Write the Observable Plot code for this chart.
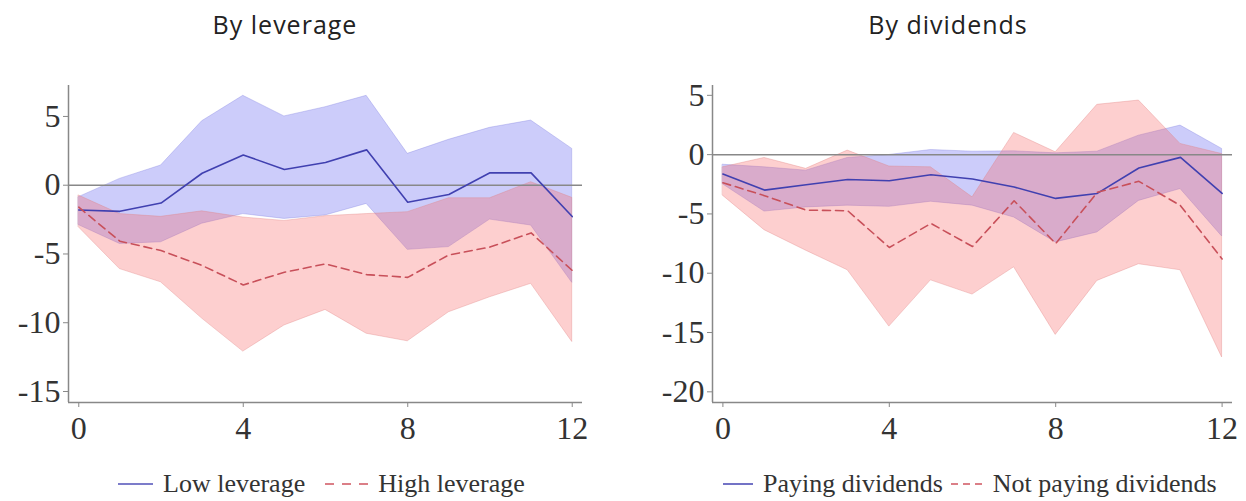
<!DOCTYPE html>
<html><head><meta charset="utf-8">
<script src="https://cdn.jsdelivr.net/npm/d3@7"></script>
<script src="https://cdn.jsdelivr.net/npm/@observablehq/plot@0.6"></script>
<style>
body{margin:0;background:#fff;width:1246px;height:501px;overflow:hidden;position:relative}
.title{position:absolute;top:7px;font-family:"Open Sans",sans-serif;font-size:25px;letter-spacing:1px;color:#222;transform:translateX(-50%);white-space:nowrap}
.panel{position:absolute;top:60px}
.legend{position:absolute;top:469px;font-family:"Liberation Serif",serif;font-size:26px;color:#333;display:flex;align-items:center;white-space:nowrap}
.legend svg{margin-right:10px}
</style></head><body>
<div class="title" style="left:285px">By leverage</div>
<div class="title" style="left:948px">By dividends</div>
<div id="p1" class="panel" style="left:0px"></div>
<div id="p2" class="panel" style="left:630px"></div>
<div class="legend" style="left:118px">
  <svg width="35" height="10"><line x1="0" y1="5" x2="35" y2="5" stroke="#5050b8" stroke-width="1.6"/></svg><span style="margin-right:20px">Low leverage</span>
  <svg width="43" height="10"><line x1="0" y1="5" x2="43" y2="5" stroke="#d05560" stroke-width="1.6" stroke-dasharray="9,8"/></svg><span>High leverage</span>
</div>
<div class="legend" style="left:723px">
  <svg width="30" height="10"><line x1="0" y1="5" x2="30" y2="5" stroke="#5050b8" stroke-width="1.6"/></svg><span style="margin-right:8px">Paying dividends</span>
  <svg width="32" height="10"><line x1="0" y1="5" x2="32" y2="5" stroke="#d05560" stroke-width="1.6" stroke-dasharray="7,5"/></svg><span>Not paying dividends</span>
</div>
<script>
// horizons
const horizon = [0,1,2,3,4,5,6,7,8,9,10,11,12];
const xTicks = [0,4,8,12];

// By leverage
const lowLev    = [-1.8,-1.9,-1.3,0.87,2.2,1.14,1.65,2.57,-1.24,-0.68,0.9,0.9,-2.28];
const lowLevHi  = [-0.87,0.46,1.43,4.65,6.5,5.0,5.67,6.5,2.28,3.3,4.17,4.7,2.64];
const lowLevLo  = [-2.9,-4.27,-4.15,-2.8,-2.1,-2.45,-2.2,-1.36,-4.7,-4.5,-2.5,-2.93,-7.1];
const highLev   = [-1.6,-4.07,-4.75,-5.84,-7.25,-6.33,-5.72,-6.5,-6.7,-5.07,-4.5,-3.47,-6.2];
const highLevHi = [-0.75,-2.1,-2.3,-1.9,-2.35,-2.6,-2.25,-2.1,-1.96,-0.95,-0.95,0.22,-0.92];
const highLevLo = [-3.06,-6.1,-7.06,-9.7,-12.1,-10.2,-9.07,-10.8,-11.35,-9.24,-8.15,-7.17,-11.4];
const levYTicks = [-15,-10,-5,0,5];

// By dividends
const payDiv     = [-1.63,-2.99,-2.54,-2.1,-2.2,-1.69,-2.06,-2.73,-3.69,-3.27,-1.13,-0.23,-3.27];
const payDivHi   = [-0.85,-1.07,-1.35,-0.28,-0.03,0.39,0.25,0.28,0.11,0.25,1.6,2.45,0.48];
const payDivLo   = [-2.5,-4.8,-4.45,-4.3,-4.4,-3.97,-4.3,-5.3,-7.4,-6.56,-3.9,-2.9,-6.9];
const notPayDiv   = [-2.37,-3.46,-4.68,-4.73,-7.83,-5.8,-7.75,-3.89,-7.5,-3.18,-2.25,-4.3,-8.8];
const notPayDivHi = [-1.07,-0.28,-1.2,0.34,-1.0,-1.07,-3.6,1.83,0.2,4.2,4.56,0.9,0.05];
const notPayDivLo = [-3.46,-6.37,-8.1,-9.75,-14.5,-10.6,-11.8,-9.5,-15.2,-10.65,-9.24,-9.75,-17.1];
const divYTicks = [-20,-15,-10,-5,0,5];

function rows(mid, lo, hi) {
  return horizon.map((h, i) => ({h, mid: mid[i], lo: lo[i], hi: hi[i]}));
}

function panel(el, {width, marginLeft, marginRight, yDomain, yTicks, a, b}) {
  const xDomain = [-0.25, 12.25];
  const chart = Plot.plot({
    width, height: 400, marginLeft, marginRight, marginTop: 25, marginBottom: 58,
    style: {fontFamily: '"Liberation Serif", serif', fontSize: "32px", color: "#333", background: "transparent", overflow: "visible"},
    x: {domain: xDomain},
    y: {domain: yDomain},
    marks: [
      Plot.areaY(a, {x: "h", y1: "lo", y2: "hi", fill: "#6060f0", fillOpacity: 0.32, stroke: "#8080e0", strokeOpacity: 0.35, strokeWidth: 1}),
      Plot.areaY(b, {x: "h", y1: "lo", y2: "hi", fill: "#f86060", fillOpacity: 0.3, stroke: "#e08080", strokeOpacity: 0.35, strokeWidth: 1}),
      Plot.ruleY([0], {x1: xDomain[0], x2: xDomain[1], stroke: "#888", strokeWidth: 1.5}),
      Plot.line(a, {x: "h", y: "mid", stroke: "#4040b0", strokeWidth: 1.6}),
      Plot.line(b, {x: "h", y: "mid", stroke: "#c8505a", strokeWidth: 1.6, strokeDasharray: "8,5"}),
      Plot.ruleX([xDomain[0]], {stroke: "#888", strokeWidth: 1.5}),
      Plot.ruleY([yDomain[0]], {stroke: "#888", strokeWidth: 1.5}),
      Plot.axisX({ticks: xTicks, tickSize: 5, tickPadding: 9, fontSize: 32, stroke: "#888", tickFormat: d => String(d), label: null}),
      Plot.axisY({ticks: yTicks, tickSize: 5, tickPadding: 3, fontSize: 32, stroke: "#888", tickFormat: d => String(d), label: null})
    ]
  });
  document.getElementById(el).append(chart);
}

panel("p1", {width: 600, marginLeft: 68, marginRight: 18, yDomain: [-15.8, 7.25], yTicks: levYTicks,
  a: rows(lowLev, lowLevLo, lowLevHi), b: rows(highLev, highLevLo, highLevHi)});
panel("p2", {width: 616, marginLeft: 82, marginRight: 14, yDomain: [-20.9, 5.83], yTicks: divYTicks,
  a: rows(payDiv, payDivLo, payDivHi), b: rows(notPayDiv, notPayDivLo, notPayDivHi)});
</script>
</body></html>
